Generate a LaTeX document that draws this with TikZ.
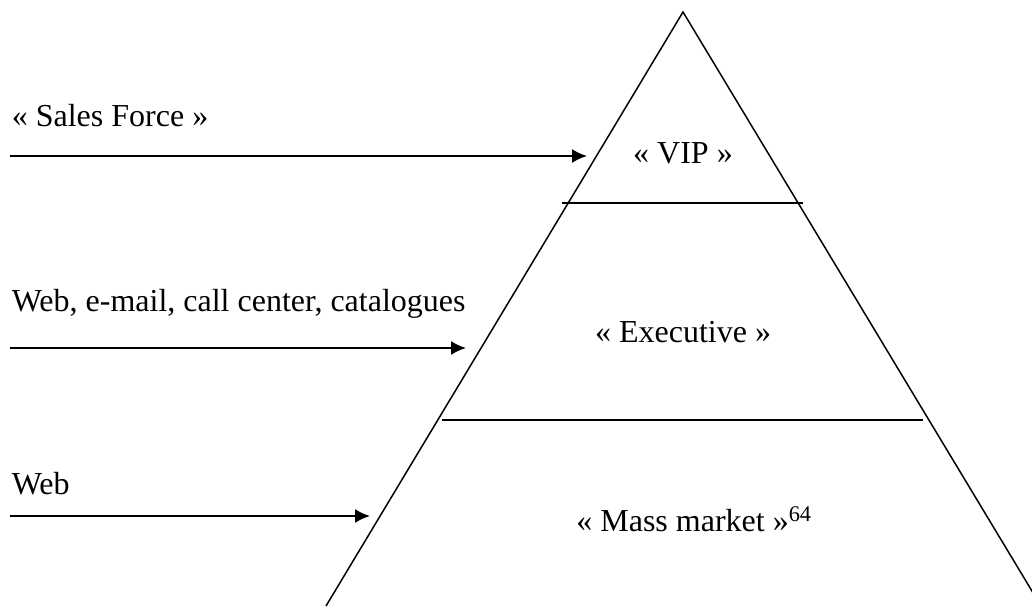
\documentclass[tikz,border=0pt]{standalone}
\usepackage{fontspec}
\setmainfont{Liberation Serif}
\usetikzlibrary{arrows.meta}

\begin{document}
\begin{tikzpicture}[x=1pt,y=-1pt,
  line width=1.7pt,
  label node/.style={anchor=base west,inner sep=0pt,font=\fontsize{32}{38}\selectfont},
  level node/.style={anchor=base,inner sep=0pt,font=\fontsize{32}{38}\selectfont},
  channel/.style={-{Latex[length=15pt,width=14pt]}}]
  \useasboundingbox (0,0) rectangle (1032,606);
  \clip (0,0) rectangle (1032,606);

  % pyramid
  \coordinate (top) at (683,12);
  \coordinate (bl) at (326,606);
  \coordinate (br) at (1041,606);
  \draw[line width=1.5pt] (bl) -- (top) -- (br);

  \coordinate (l1) at (562,203);
  \coordinate (r1) at (803,203);
  \coordinate (l2) at (442,420);
  \coordinate (r2) at (923,420);
  \draw (l1) -- (r1);
  \draw (l2) -- (r2);

  \node[level node] (vip) at (683,163){« VIP »};
  \node[level node] (exec) at (683,342){« Executive »};
  \node[level node] (mass) at (694,531){« Mass market »\textsuperscript{64}};

  % channels
  \node[label node] (sales) at (11,126){« Sales Force »};
  \node[label node] (web2) at (11,311){Web, e-mail, call center, catalogues};
  \node[label node] (web) at (11,494){Web};

  \coordinate (s1) at (10,156);
  \coordinate (t1) at (587,156);
  \coordinate (s2) at (10,348);
  \coordinate (t2) at (466,348);
  \coordinate (s3) at (10,516);
  \coordinate (t3) at (370,516);

  \path[channel]
    (s1) edge (t1)
    (s2) edge (t2)
    (s3) edge (t3);
\end{tikzpicture}
\end{document}
